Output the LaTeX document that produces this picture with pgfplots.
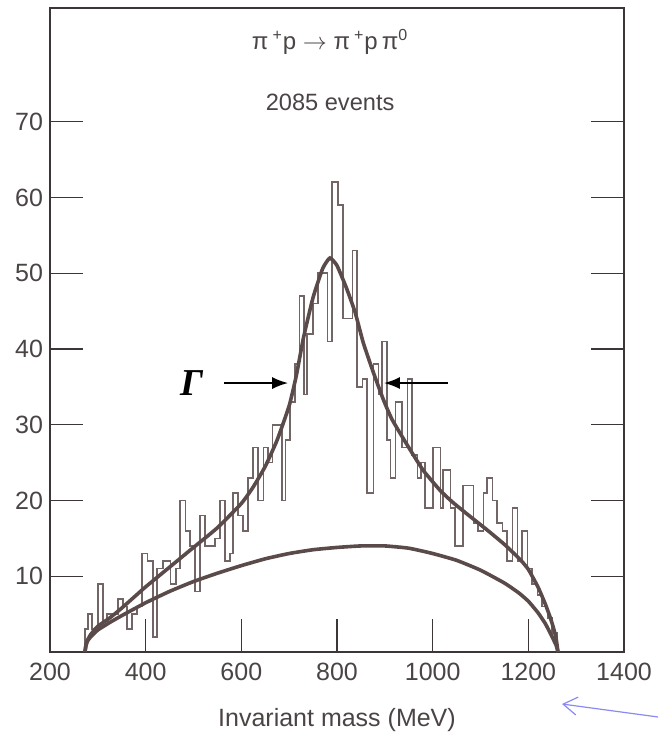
\documentclass[border=0pt]{standalone}
\usepackage{fontspec}
\setmainfont{Liberation Sans}
\newfontfamily\serifbi{Liberation Serif}
\usepackage{pgfplots}
\pgfplotsset{compat=1.18}
\usetikzlibrary{arrows.meta}
\definecolor{axgray}{HTML}{3C3636}
\definecolor{txtgray}{HTML}{4A4444}
\definecolor{curvec}{HTML}{5A4A4A}
\definecolor{histc}{HTML}{716565}
\definecolor{bluearrow}{HTML}{8A8AF0}
\begin{document}
\begin{tikzpicture}
\useasboundingbox (-25pt,-48pt) rectangle (304pt,326pt);
\begin{axis}[
 at={(0,0)}, anchor=south west,
 scale only axis, width=287pt, height=322pt,
 xmin=200, xmax=1400, ymin=0, ymax=85,
 xtick={200,400,...,1400}, ytick={10,20,...,70},
 xtick pos=left, ytick pos=both, yticklabel pos=left,
 tick align=inside,
 major tick length=16.5pt,
 every tick/.style={axgray, line width=0.6pt},
 axis line style={axgray, line width=1.2pt},
 tick label style={font=\fontsize{12.5}{15}\selectfont, text=txtgray},
 /pgf/number format/assume math mode=true,
 /pgf/number format/1000 sep={},
 xticklabel style={yshift=-2pt},
 clip=false,
]
% histogram
\addplot[const plot mark left, histc, line width=0.8pt] coordinates {
(273,0) (273,3) (280,5) (288,3) (300,9) (311,4) (319,5) (330,5) (342,7) (352,6)
(361,3) (371,5) (382,6) (392,13) (404,12) (415,2) (424,11) (436,12) (452,9) (463,11)
(472,20) (483,16) (493,14) (503,8) (514,18) (524,14) (535,14) (545,15) (556,20) (566,12)
(576,13) (583,21) (593,18) (604,16) (614,23) (625,27) (635,20) (646,27) (656,25) (665,30)
(676,30) (685,20) (692,28) (702,33) (712,38) (722,47) (731,34) (737,42) (750,46) (760,50)
(772,50) (780,41) (790,62) (802,59) (813,44) (832,53) (842,35) (853,36) (863,21) (876,38)
(887,34) (894,41) (905,28) (912,23) (922,33) (936,27) (947,36) (957,26) (968,23) (975,25)
(984,19) (1001,27) (1016,19) (1022,24) (1037,19) (1047,14) (1064,22) (1085,17) (1095,16) (1106,21)
(1114,23) (1125,20) (1135,17) (1146,16) (1156,12) (1167,19) (1177,12) (1187,16) (1198,11) (1208,9)
(1219,7.5) (1229,6) (1240,4.5) (1250,2.5) (1260,2.5) (1260,0)
};
% background curve
\addplot[curvec, line width=1.8pt, smooth, tension=0.3] coordinates {
(273,0) (275,0.8) (278,1.4) (285,2.0) (300,2.9) (325,3.9) (350,4.8) (400,6.5) (450,8) (500,9.3) (550,10.4)
(600,11.4) (650,12.3) (700,13) (750,13.5) (800,13.8) (850,14) (900,14) (950,13.7) (1000,13)
(1050,12.1) (1100,10.8) (1150,9.1) (1180,7.8) (1200,6.7) (1220,5.2) (1235,3.8) (1245,2.6) (1252,1.7) (1258,0.9) (1262,0)
};
% total fit
\addplot[curvec, line width=1.8pt, smooth, tension=0.3] coordinates {
(273,0) (275,0.8) (278,1.5) (285,2.3) (300,3.4) (325,4.5) (350,5.8) (375,7.2) (400,8.6) (450,11.2) (500,13.8)
(550,16.4) (600,19.6) (625,21.8) (650,24.5) (675,28) (700,32.5) (715,36.5) (730,41.5) (750,46.8)
(770,50.6) (785,52) (800,51) (820,48) (838,44.8) (855,40.8) (876,36.9) (897,33.3) (915,30.7)
(947,27.3) (980,24) (1016,21.3) (1043,19.7) (1080,17.8) (1114,16.1) (1150,14.2) (1183,12.2)
(1200,10.9) (1220,8.6) (1235,6.4) (1245,4.7) (1252,3.3) (1258,1.8) (1262,0)
};
% texts
\node[text=txtgray, font=\fontsize{12}{15}\selectfont] at (rel axis cs:0.488,0.947)
 {π\,\textsuperscript{+}p $\rightarrow$ π\,\textsuperscript{+}p\,π\textsuperscript{0}};
\node[text=txtgray, font=\fontsize{11.8}{15}\selectfont] at (rel axis cs:0.488,0.854) {2085 events};
\node[text=txtgray, font=\fontsize{12.5}{15}\selectfont] at (rel axis cs:0.5,0) [yshift=-34pt] {Invariant mass (MeV)};
% Gamma and arrows
\node[font=\serifbi\bfseries\itshape\fontsize{19}{22}\selectfont] at (axis cs:496,35.5) {Γ};
\draw[black, line width=1pt, -{Latex[length=8pt,width=6pt]}] (axis cs:564,35.5) -- (axis cs:698,35.5);
\draw[black, line width=1pt, -{Latex[length=8pt,width=6pt]}] (axis cs:1031,35.5) -- (axis cs:898,35.5);
\end{axis}
\draw[bluearrow, line width=0.6pt, -{Straight Barb[length=7pt,width=9pt]}] (304pt,-32.5pt) -- (256pt,-26pt);
\end{tikzpicture}
\end{document}
